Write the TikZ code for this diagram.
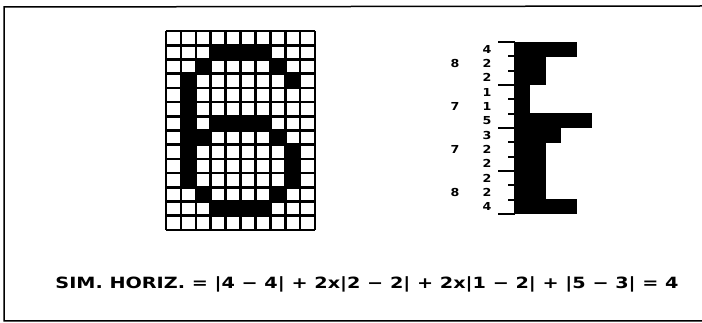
\documentclass[tikz,border=0pt]{standalone}
\usepackage{fontspec}
\setmainfont{DejaVu Sans}
\begin{document}
\begin{tikzpicture}[x=1pt,y=-1pt,
  gridline/.style={line width=2.6pt},
  axisline/.style={line width=2.2pt},
  tick/.style={line width=1.8pt},
  numlab/.style={font=\fontsize{11}{11}\selectfont\bfseries, inner sep=0pt, anchor=center, xscale=1.15},
  formula/.style={font=\fontsize{15.5}{15.5}\selectfont\bfseries, inner sep=0pt, anchor=center, xscale=1.24}]
\useasboundingbox (0,0) rectangle (702,323);
\fill[white] (0,0) rectangle (702,323);
% frame
\draw[line width=1.5pt] (702,6) -- (4,7) -- (4,321) -- (702,321);
% grid cells
\foreach \r/\c in {1/3,1/4,1/5,1/6, 2/2,2/7, 3/1,3/8, 4/1,5/1, 6/1,6/3,6/4,6/5,6/6,
  7/1,7/2,7/7, 8/1,8/8, 9/1,9/8, 10/1,10/8, 11/2,11/7, 12/3,12/4,12/5,12/6}
  \fill (166+\c*14.9, 31+\r*14.214) rectangle ++(14.9,14.214);
\foreach \i in {0,...,10} \draw[gridline] (166+\i*14.9,31) -- (166+\i*14.9,230);
\foreach \j in {0,...,14} \draw[gridline] (166,31+\j*14.214) -- (315,31+\j*14.214);
% histogram
\foreach \v [count=\i from 0] in {4,2,2,1,1,5,3,2,2,2,2,4} {
  \fill (515, 42+\i*14.333-0.2) rectangle ++(\v*15.4, 14.733);
  \node[numlab] (v\i) at (487, 42+\i*14.333+7.17) {\v};
}
\draw[axisline] (515,42) -- (515,214);
\foreach \k in {0,3,6,9,12} \draw[tick] (498,42+\k*14.333) -- (515,42+\k*14.333);
\foreach \k in {1,2,4,5,7,8,10,11} \draw[tick] (508,42+\k*14.333) -- (515,42+\k*14.333);
\foreach \r/\t in {1/8,4/7,7/7,10/8}
  \node[numlab] (g\r) at (455, 42+\r*14.333+7.17) {\t};
% formula
\node[formula] (f) at (367,284) {SIM. HORIZ. = |4 − 4| + 2x|2 − 2| + 2x|1 − 2| + |5 − 3| = 4};
\end{tikzpicture}
\end{document}
